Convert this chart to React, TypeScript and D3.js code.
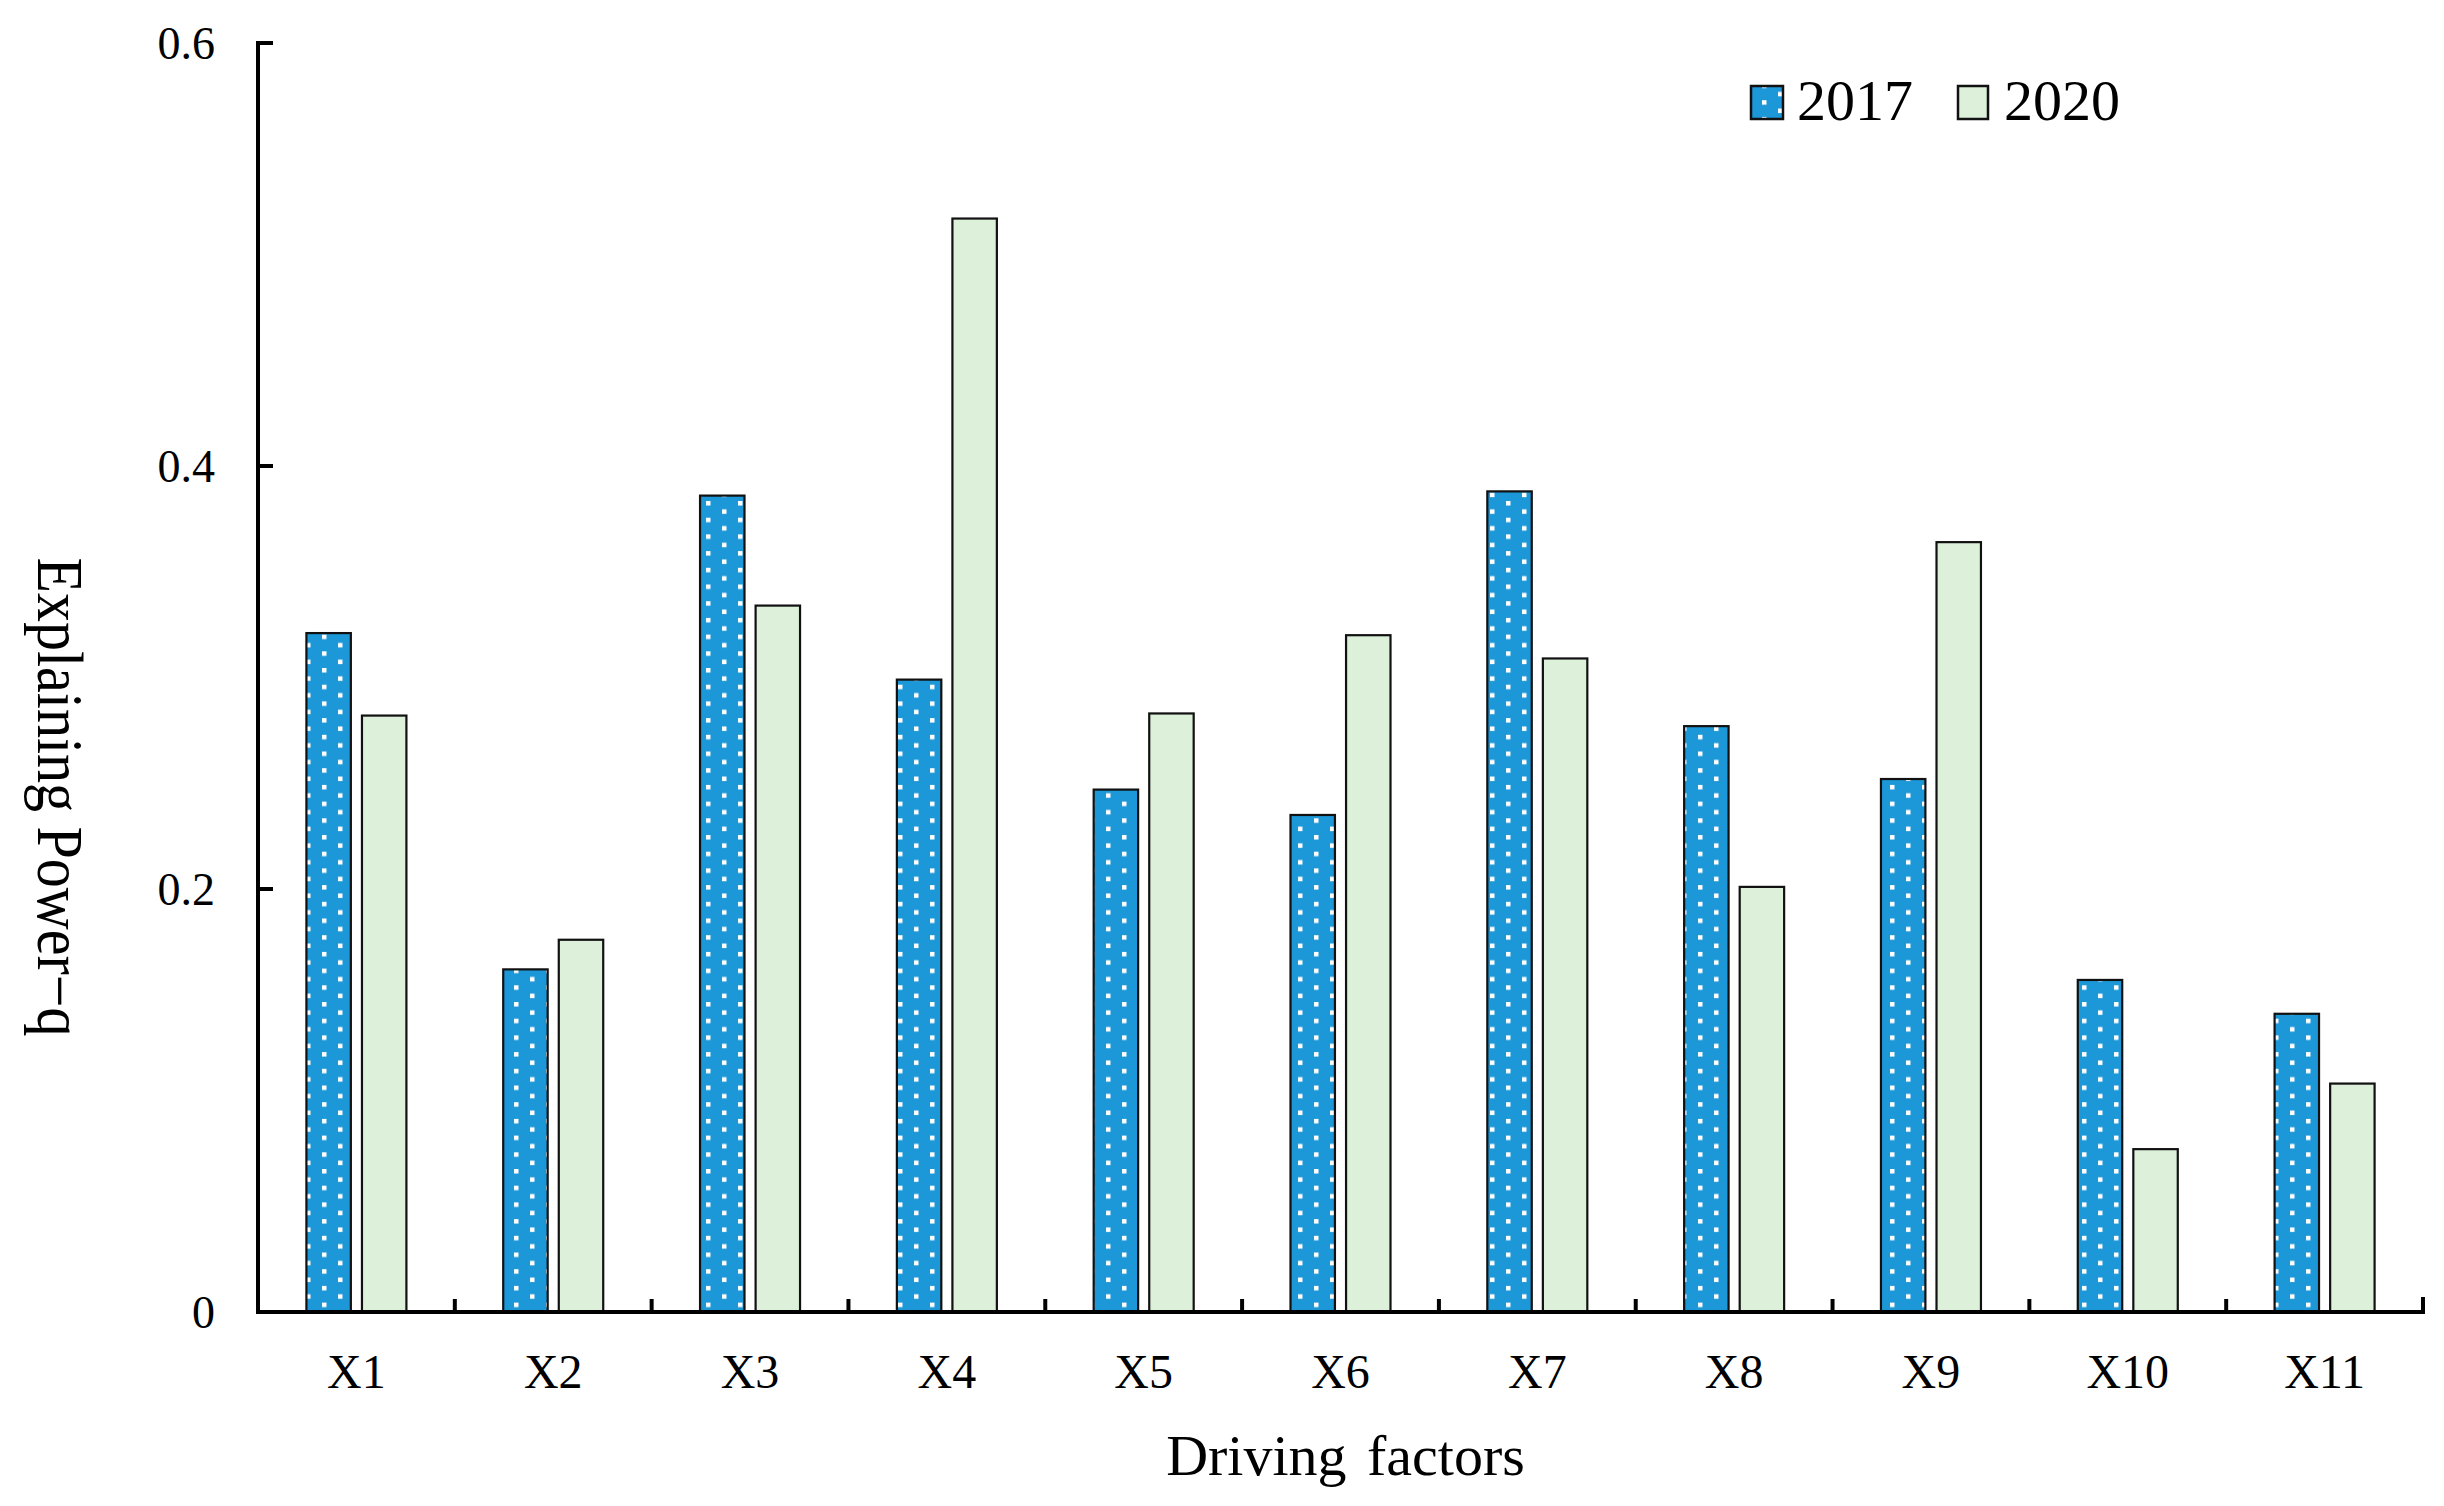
import React from "react";
import * as d3 from "d3";

const categories = ["X1", "X2", "X3", "X4", "X5", "X6", "X7", "X8", "X9", "X10", "X11"];
const seriesNames = ["2017", "2020"];
const values2017 = [0.321, 0.162, 0.386, 0.299, 0.247, 0.235, 0.388, 0.277, 0.252, 0.157, 0.141];
const values2020 = [0.282, 0.176, 0.334, 0.517, 0.283, 0.320, 0.309, 0.201, 0.364, 0.077, 0.108];
const yTicks = [0, 0.2, 0.4, 0.6];

const W = 2444;
const H = 1506;
const left = 258;
const right = 2423;
const top = 43;
const bottom = 1312;
const BLUE = "#1C97D7";
const GREEN = "#DCF0DA";
const FONT = "'Liberation Serif', 'Times New Roman', serif";

export default function App() {
  const x = d3.scaleBand<string>().domain(categories).range([left, right]).padding(0);
  const y = d3.scaleLinear().domain([0, 0.6]).range([bottom, top]);
  const bw = x.bandwidth();
  const inner = d3.scaleBand<string>().domain(seriesNames).range([-50, 50]).paddingInner(0.2);
  const data = [values2017, values2020];
  const fills = [`url(#dots)`, GREEN];

  return (
    <svg
      width={W}
      height={H}
      viewBox={`0 0 ${W} ${H}`}
      style={{ position: "absolute", left: 0, top: 0, display: "block", background: "#fff" }}
    >
      <defs>
        <pattern id="dots" patternUnits="userSpaceOnUse" width={32} height={16.7} x={2} y={0}>
          <rect x={0} y={0} width={32} height={16.7} fill={BLUE} />
          <rect x={0} y={0} width={4.5} height={4.5} fill="#fff" />
          <rect x={16} y={8.35} width={4.5} height={4.5} fill="#fff" />
        </pattern>
      </defs>
      <rect x={0} y={0} width={W} height={H} fill="#fff" />

      {/* bars */}
      {seriesNames.map((s, si) =>
        categories.map((c, ci) => {
          const cx = (x(c) as number) + bw / 2;
          const bx = cx + (inner(s) as number);
          const v = data[si][ci];
          return (
            <rect
              key={s + c}
              x={bx}
              y={y(v)}
              width={inner.bandwidth()}
              height={bottom - y(v)}
              fill={fills[si]}
              stroke="#111"
              strokeWidth={2.2}
            />
          );
        })
      )}

      {/* axes */}
      <path
        d={`M${left},${top} V${bottom} H${right} V${bottom - 13}`}
        fill="none"
        stroke="#000"
        strokeWidth={4}
        strokeLinejoin="miter"
        strokeLinecap="square"
      />
      {yTicks.map((t) => (
        <g key={"yt" + t}>
          <line x1={left} x2={left + 15} y1={y(t)} y2={y(t)} stroke="#000" strokeWidth={4} />
          <text
            x={215}
            y={y(t)}
            dy="0.35em"
            textAnchor="end"
            fontFamily={FONT}
            fontSize={46}
            fill="#000"
          >
            {t === 0 ? "0" : t.toFixed(1)}
          </text>
        </g>
      ))}
      {categories.map((c, i) => (
        <g key={"xt" + c}>
          {i > 0 && (
            <line
              x1={x(c) as number}
              x2={x(c) as number}
              y1={bottom}
              y2={bottom - 13}
              stroke="#000"
              strokeWidth={4}
            />
          )}
          <text
            x={(x(c) as number) + bw / 2}
            y={1388}
            textAnchor="middle"
            fontFamily={FONT}
            fontSize={48}
            fill="#000"
          >
            {c}
          </text>
        </g>
      ))}

      {/* axis titles */}
      <text
        x={(left + right) / 2 + 5}
        y={1475}
        textAnchor="middle"
        fontFamily={FONT}
        fontSize={58}
        fill="#000"
        style={{ wordSpacing: "6px" }}
      >
        Driving factors
      </text>
      <text
        transform={`translate(38, 797) rotate(90)`}
        textAnchor="middle"
        fontFamily={FONT}
        fontSize={66}
        fill="#000"
        textLength={479}
        lengthAdjust="spacingAndGlyphs"
      >
        Explaining Power−q
      </text>

      {/* legend */}
      <g>
        <rect x={1751} y={86} width={32} height={33} fill="url(#dots)" stroke="#111" strokeWidth={2.5} />
        <text x={1797} y={120} fontFamily={FONT} fontSize={58} fill="#000">
          2017
        </text>
        <rect x={1958} y={86} width={30} height={33} fill={GREEN} stroke="#111" strokeWidth={2.5} />
        <text x={2004} y={120} fontFamily={FONT} fontSize={58} fill="#000">
          2020
        </text>
      </g>
    </svg>
  );
}
